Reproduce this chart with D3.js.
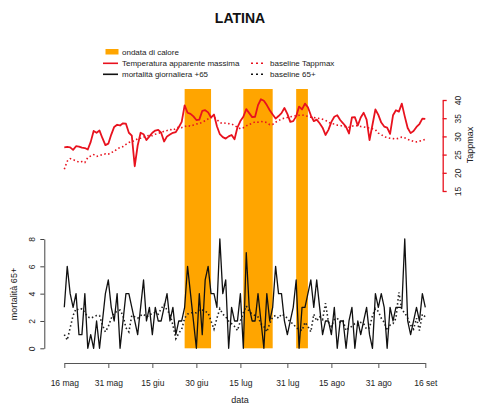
<!DOCTYPE html>
<html>
<head>
<meta charset="utf-8">
<script src="https://cdn.jsdelivr.net/npm/d3@7"></script>
<style>
  body { margin: 0; background: #fff; }
  svg text { font-family: "Liberation Sans", Arial, sans-serif; fill: #222; }
</style>
</head>
<body>
<div id="chart"></div>
<script>
// one value per day, from 16 mag to 16 set
var startDay = '2015-05-16';

var tappmax = [
  27.0, 27.1, 27.0, 26.3, 27.3, 27.2, 26.9, 26.8, 26.4, 28.5,
  31.5, 31.0, 31.6, 29.5, 27.6, 28.0, 30.5, 32.6, 33.2, 33.0,
  33.6, 33.5, 31.0, 30.2, 21.8, 27.5, 31.0, 30.6, 29.0, 30.0,
  31.0, 31.6, 31.8, 31.0, 28.6, 30.0, 30.5, 31.0, 31.2, 32.5,
  34.0, 38.5, 36.5, 36.2, 35.5, 34.5, 34.6, 37.0, 37.2, 36.6,
  35.2, 36.0, 32.8, 30.6, 29.8, 29.4, 30.0, 30.4, 29.2, 32.5,
  34.2, 35.4, 37.5, 36.4, 35.3, 35.4, 38.6, 40.2, 39.8, 38.6,
  37.2, 36.0, 34.9, 35.6, 36.4, 37.8, 36.2, 34.0, 34.2, 35.5,
  38.2, 37.4, 39.0, 38.0, 35.8, 34.2, 34.6, 33.6, 32.4, 30.4,
  31.8, 34.0, 35.4, 35.8, 34.5, 33.6, 32.6, 30.8, 35.2, 35.3,
  33.0, 35.2, 36.5, 34.6, 29.0, 33.2, 37.4, 35.9, 33.8, 32.7,
  32.4, 30.7, 35.8, 37.2, 36.8, 39.0, 35.5, 32.3, 30.9, 31.5,
  32.6, 33.4, 34.9, 34.8
];

var tappmaxBase = [
  21.0, 23.2, 23.9, 23.6, 23.3, 22.9, 23.1, 22.8, 24.2, 24.6,
  25.0, 24.5, 24.7, 25.0, 25.2, 25.1, 25.6, 25.8, 26.6, 26.9,
  27.2, 27.8, 28.3, 28.6, 28.8, 29.4, 29.5, 29.8, 30.1, 30.3,
  30.2, 30.6, 30.8, 31.1, 31.4, 31.6, 31.9, 31.7, 32.2, 32.6,
  32.4, 32.7, 33.0, 32.8, 33.1, 33.4, 33.5, 33.9, 34.3, 34.8,
  35.2, 35.3, 34.6, 33.8, 33.5, 33.7, 33.5, 33.4, 33.0, 32.5,
  32.1, 32.4, 32.9, 33.3, 33.6, 34.0, 33.9, 34.1, 34.0, 33.8,
  33.2, 33.3, 33.9, 34.3, 34.8, 35.0, 35.2, 35.4, 35.5, 35.7,
  35.8, 35.9, 35.7, 35.5, 35.3, 35.2, 35.0, 34.9, 34.7, 34.4,
  33.9, 33.5, 33.4, 33.1, 33.0, 32.8, 32.6, 32.5, 32.8, 33.0,
  32.9, 32.7, 32.6, 32.4, 32.3, 32.1, 31.8, 30.9, 30.5, 29.9,
  29.7, 29.5, 29.4, 29.3, 29.5, 29.8, 29.6, 29.2, 28.9, 28.6,
  28.5, 28.7, 28.9, 29.2
];

var mortality = [
  3, 6, 4, 3, 4, 1, 1, 4, 0, 1,
  0, 2, 0, 2, 4, 5, 3, 2, 4, 0,
  2, 4, 4, 3, 2, 1, 3, 5, 2, 3,
  1, 3, 2, 2, 3, 4, 2, 3, 1, 2,
  2, 3, 6, 4, 2, 0, 4, 1, 5, 6,
  4, 4, 3, 8, 4, 5, 0, 3, 2, 2,
  4, 0, 7, 3, 2, 2, 4, 2, 0, 4,
  2, 3, 6, 4, 4, 2, 1, 2, 3, 5,
  0, 3, 3, 4, 5, 3, 5, 3, 1, 2,
  2, 1, 3, 0, 2, 2, 0, 2, 3, 0,
  2, 1, 2, 3, 1, 0, 4, 3, 4, 3,
  0, 3, 2, 3, 3, 3, 8, 2, 1, 2,
  3, 2, 4, 3
];

var mortalityBase = [
  1.0, 0.6, 1.5, 2.4, 2.9, 2.8, 2.9, 2.6, 2.3, 2.2,
  2.3, 2.4, 2.4, 1.7, 1.2, 1.6, 2.2, 2.6, 2.7, 2.8,
  2.4, 1.5, 1.2, 2.4, 2.3, 2.2, 2.4, 2.5, 2.3, 2.4,
  2.6, 2.6, 2.5, 2.9, 3.2, 2.8, 2.5, 1.7, 0.7, 1.1,
  1.4, 2.2, 2.5, 2.6, 2.6, 2.6, 2.8, 2.8, 2.7, 2.6,
  2.0, 1.4, 2.2, 2.9, 2.5, 2.3, 2.0, 1.8, 1.6, 1.3,
  2.0, 2.6, 3.1, 2.7, 2.5, 2.4, 2.3, 1.8, 1.6, 1.2,
  1.8, 2.3, 2.4, 2.2, 2.5, 2.4, 2.2, 1.9, 1.8, 1.5,
  1.4, 1.3, 1.9, 1.6, 1.2, 2.5, 2.0, 2.3, 2.1, 3.3,
  1.9, 1.6, 2.1, 2.2, 1.9, 2.0, 1.3, 1.5, 1.6, 1.8,
  1.7, 1.9, 1.8, 1.4, 1.5, 2.4, 2.9, 2.7, 2.2, 1.9,
  1.3, 1.7, 1.8, 2.2, 4.1, 2.8, 2.6, 2.2, 1.7, 1.4,
  2.2, 1.3, 2.5, 2.3
];

// ondate di calore: first and last day
var heatWaves = [
  ['2015-06-26', '2015-07-05'],
  ['2015-07-16', '2015-07-26'],
  ['2015-08-03', '2015-08-07']
];

var tickDates = ['2015-05-16', '2015-05-31', '2015-06-15', '2015-06-30', '2015-07-15',
  '2015-07-31', '2015-08-15', '2015-08-31', '2015-09-16'];
var tickLabels = ['16 mag', '31 mag', '15 giu', '30 giu', '15 lug', '31 lug', '15 ago', '31 ago', '16 set'];
var tempTicks = [15, 20, 25, 30, 35, 40];
var mortTicks = [0, 2, 4, 6, 8];

var W = 479, H = 417;
var RED = '#e8121e';
var ORANGE = '#ffa500';
var parse = d3.timeParse('%Y-%m-%d');

var day0 = parse(startDay);
var dates = tappmax.map(function(v, i){ return d3.timeDay.offset(day0, i); });

var svg = d3.select('#chart').append('svg')
  .attr('width', W)
  .attr('height', H);

// scales
var x = d3.scaleTime()
  .domain([parse(tickDates[0]), parse(tickDates[tickDates.length - 1])])
  .range([64.3, 425.3]);
var yTemp = d3.scaleLinear().domain([15, 40]).range([191, 100]);
var yMort = d3.scaleLinear().domain([0, 8]).range([348.3, 239]);

// heat wave bands
svg.append('g').selectAll('rect')
  .data(heatWaves)
  .enter().append('rect')
  .attr('x', function(d){ return x(parse(d[0])); })
  .attr('width', function(d){ return x(parse(d[1])) - x(parse(d[0])); })
  .attr('y', 89)
  .attr('height', yMort(0) - 89)
  .attr('fill', ORANGE);

function makeLine(y){
  return d3.line()
    .x(function(d, i){ return x(dates[i]); })
    .y(function(d){ return y(d); });
}

// lines
svg.append('path')
  .datum(mortalityBase)
  .attr('d', makeLine(yMort))
  .attr('fill', 'none')
  .attr('stroke', '#222')
  .attr('stroke-width', 1.6)
  .attr('stroke-dasharray', '1.5,2.5');

svg.append('path')
  .datum(mortality)
  .attr('d', makeLine(yMort))
  .attr('fill', 'none')
  .attr('stroke', '#111')
  .attr('stroke-width', 1.3)
  .attr('stroke-linejoin', 'round');

svg.append('path')
  .datum(tappmaxBase)
  .attr('d', makeLine(yTemp))
  .attr('fill', 'none')
  .attr('stroke', RED)
  .attr('stroke-width', 1.6)
  .attr('stroke-dasharray', '1.5,2.5');

svg.append('path')
  .datum(tappmax)
  .attr('d', makeLine(yTemp))
  .attr('fill', 'none')
  .attr('stroke', RED)
  .attr('stroke-width', 1.8)
  .attr('stroke-linejoin', 'round');

// x axis
var xAxis = svg.append('g')
  .attr('transform', 'translate(0,363)')
  .call(d3.axisBottom(x)
    .tickValues(tickDates.map(parse))
    .tickFormat(function(d, i){ return tickLabels[i]; })
    .tickSize(5)
    .tickSizeOuter(0)
    .tickPadding(12));
xAxis.selectAll('text').style('font-size', '8.5px');
xAxis.selectAll('path, line').attr('stroke', '#555');

// left axis: mortality
var yAxisL = svg.append('g')
  .attr('transform', 'translate(44.3,0)')
  .call(d3.axisLeft(yMort).tickValues(mortTicks).tickSize(4).tickSizeOuter(0));
yAxisL.selectAll('path, line').attr('stroke', '#444');
yAxisL.selectAll('text')
  .attr('x', 0)
  .attr('y', -9.5)
  .attr('dy', 0)
  .attr('transform', 'rotate(-90)')
  .attr('text-anchor', 'middle')
  .style('font-size', '8.5px');

// right axis: Tappmax
var yAxisR = svg.append('g')
  .attr('transform', 'translate(442.7,0)')
  .call(d3.axisRight(yTemp).tickValues(tempTicks).tickSize(4).tickSizeOuter(0));
yAxisR.selectAll('path, line').attr('stroke', RED).attr('stroke-width', 1.3);
yAxisR.selectAll('text')
  .attr('x', 0)
  .attr('y', 18.5)
  .attr('dy', 0)
  .attr('transform', 'rotate(-90)')
  .attr('text-anchor', 'middle')
  .style('font-size', '8.5px');

svg.selectAll('.domain').attr('fill', 'none');

// axis titles
svg.append('text')
  .attr('transform', 'translate(17,294) rotate(-90)')
  .attr('text-anchor', 'middle')
  .style('font-size', '9px')
  .text('mortalità 65+');

svg.append('text')
  .attr('transform', 'translate(473,145) rotate(-90)')
  .attr('text-anchor', 'middle')
  .style('font-size', '9px')
  .text('Tappmax');

svg.append('text')
  .attr('x', 240)
  .attr('y', 403)
  .attr('text-anchor', 'middle')
  .style('font-size', '9px')
  .text('data');

// title
svg.append('text')
  .attr('x', 240)
  .attr('y', 23)
  .attr('text-anchor', 'middle')
  .style('font-size', '14px')
  .style('font-weight', 'bold')
  .style('fill', '#111')
  .text('LATINA');

// legend
var lg = svg.append('g').attr('class', 'legend');
lg.append('rect')
  .attr('x', 105.5).attr('y', 49)
  .attr('width', 13).attr('height', 5.5)
  .attr('fill', ORANGE);

var lgItems = [
  {label: 'ondata di calore', x: 122, y: 52},
  {label: 'Temperatura apparente massima', x: 122, y: 63.3, color: RED, dash: null},
  {label: 'mortalità giornaliera +65', x: 122, y: 74.3, color: '#111', dash: null},
  {label: 'baseline Tappmax', x: 270, y: 63.3, color: RED, dash: '2,3'},
  {label: 'baseline 65+', x: 270, y: 74.3, color: '#111', dash: '2,3'}
];

lgItems.forEach(function(it){
  if(it.color){
    lg.append('line')
      .attr('x1', it.x - 19).attr('x2', it.x - 4)
      .attr('y1', it.y).attr('y2', it.y)
      .attr('stroke', it.color)
      .attr('stroke-width', 1.6)
      .attr('stroke-dasharray', it.dash);
  }
  lg.append('text')
    .attr('x', it.x)
    .attr('y', it.y)
    .attr('dy', '0.33em')
    .style('font-size', '8px')
    .text(it.label);
});
</script>
</body>
</html>
